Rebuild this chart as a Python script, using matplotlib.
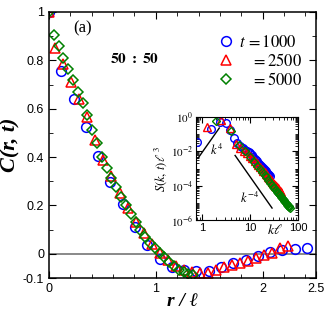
import numpy as np
import matplotlib
matplotlib.use("Agg")
from matplotlib import pyplot as plt
from matplotlib.ticker import FixedLocator, MultipleLocator, NullFormatter, LogLocator

plt.rcParams['mathtext.fontset'] = 'stix'
plt.rcParams['font.family'] = ['Liberation Sans', 'DejaVu Sans']
serif = ['Liberation Serif', 'DejaVu Serif']

# main panel: C(r,t) vs r/l
r_b = [0, 0.115, 0.23, 0.345, 0.46, 0.575, 0.69, 0.805, 0.92, 1.035, 1.15, 1.265,
       1.38, 1.495, 1.61, 1.725, 1.84, 1.955, 2.07, 2.185, 2.3, 2.415]
C_b = [1.0, 0.755, 0.64, 0.524, 0.405, 0.298, 0.205, 0.11, 0.038, -0.02, -0.055, -0.068,
       -0.072, -0.072, -0.056, -0.04, -0.024, -0.008, 0.006, 0.016, 0.021, 0.024]

r_r = [0, 0.06, 0.135, 0.21, 0.285, 0.36, 0.435, 0.51, 0.585, 0.66, 0.735, 0.81, 0.885,
       0.96, 1.035, 1.11, 1.185, 1.26, 1.335, 1.41, 1.485, 1.56, 1.635, 1.71, 1.785,
       1.86, 1.935, 2.01, 2.085, 2.16, 2.235]
C_r = [1.0, 0.85, 0.785, 0.71, 0.64, 0.565, 0.47, 0.39, 0.32, 0.25, 0.19, 0.13, 0.085,
       0.04, 0.005, -0.025, -0.05, -0.065, -0.075, -0.08, -0.078, -0.065, -0.055, -0.047,
       -0.038, -0.03, -0.016, -0.006, 0.005, 0.025, 0.032]

r_g = [0, 0.045, 0.09, 0.135, 0.18, 0.225, 0.27, 0.315, 0.36, 0.405, 0.45, 0.495, 0.54,
       0.585, 0.63, 0.675, 0.72, 0.765, 0.81, 0.855, 0.9, 0.945, 0.99, 1.035, 1.08,
       1.125, 1.17, 1.215, 1.26, 1.305, 1.35]
C_g = [1.0, 0.905, 0.86, 0.81, 0.765, 0.718, 0.67, 0.622, 0.572, 0.51, 0.46, 0.40, 0.355,
       0.315, 0.275, 0.235, 0.2, 0.165, 0.13, 0.1, 0.07, 0.045, 0.025, 0.005, -0.015,
       -0.035, -0.052, -0.065, -0.075, -0.082, -0.086]

# inset: S(k,t) l^3 vs k l  (log10 of S)
k_b = [0.78, 1.56, 2.34, 3.12, 3.9, 4.68, 5.46, 6.24, 7.02, 7.8, 8.58, 9.36, 10.1, 10.9,
       11.7, 12.5, 13.3, 14.0, 14.8, 15.6, 16.4, 17.2, 18.0, 18.7, 19.5, 20.3, 21.1,
       21.8, 22.6, 23.4, 24.2, 25.0, 25.7]
logS_b = [-1.45, -0.69, -0.28, -0.35, -0.78, -1.2, -1.5, -1.68, -1.82, -1.93, -2.0, -2.06,
          -2.12, -2.22, -2.32, -2.42, -2.5, -2.58, -2.66, -2.73, -2.8, -2.87, -2.93, -2.99,
          -3.05, -3.1, -3.16, -3.21, -3.26, -3.31, -3.36, -3.4, -3.44]

k_r = [1.25, 2.5, 3.75, 5.0, 6.25, 7.5, 8.75, 10, 11.25, 12.5, 13.75, 15, 16.25, 17.5,
       18.75, 20, 21.25, 22.5, 23.75, 25, 26.25, 27.5, 28.75, 30, 31.25, 32.5, 33.75, 35,
       36.25, 37.5, 38.75, 40, 41.25, 42.5, 43.75, 45]
logS_r = [-0.59, -0.2, -0.65, -1.55, -1.78, -1.95, -2.1, -2.24, -2.4, -2.56, -2.7, -2.82,
          -2.93, -3.04, -3.14, -3.23, -3.32, -3.4, -3.48, -3.55, -3.62, -3.69, -3.76, -3.82,
          -3.88, -3.93, -3.99, -4.04, -4.09, -4.14, -4.19, -4.23, -4.28, -4.32, -4.36, -4.4]

k_g = [2, 4, 6, 8, 10, 12, 14, 16, 18, 20, 22, 24, 26, 28, 30, 32, 34, 36, 38, 40, 42,
       44, 46, 48, 50, 52, 54, 56, 58, 60, 62, 64, 66, 68]
logS_g = [-0.25, -0.8, -1.6, -2.0, -2.33, -2.6, -2.83, -3.03, -3.2, -3.36, -3.52, -3.68,
          -3.83, -3.95, -4.06, -4.16, -4.25, -4.34, -4.42, -4.5, -4.57, -4.64, -4.7, -4.77,
          -4.83, -4.89, -4.95, -5.0, -5.06, -5.11, -5.16, -5.21, -5.26, -5.3]

# guide lines k^4 and k^-4
k4_x = [0.83, 2.3]
k4_y = [4e-3, 2.3e-1]
km4_x = [4.9, 28.7]
km4_y = [5.8e-3, 5e-6]

fig = plt.figure(figsize=(3.32, 3.13), dpi=100)
ax = fig.add_axes([0.1476, 0.1118, 0.8044, 0.8499])

ax.axhline(0, color='gray', lw=1.3, zorder=1)
mk = dict(ls='none', mfc='none', mew=1.1)
ax.plot(r_b, C_b, 'o', mec='blue', ms=7, label=r'$t\,=1000$', **mk)
ax.plot(r_r, C_r, '^', mec='red', ms=7, label=r'$\ \ \ =2500$', **mk)
ax.plot(r_g, C_g, 'D', mec='green', ms=5.3, label=r'$\ \ \ =5000$', **mk)

ax.set_xlim(0, 2.5)
ax.set_ylim(-0.1, 1.0)
ax.xaxis.set_major_locator(FixedLocator([0, 1, 2, 2.5]))
ax.set_xticklabels(['0', '1', '2', '2.5'])
ax.xaxis.set_minor_locator(MultipleLocator(0.2))
ax.yaxis.set_major_locator(FixedLocator([-0.1, 0, 0.2, 0.4, 0.6, 0.8, 1.0]))
ax.set_yticklabels(['-0.1', '0', '0.2', '0.4', '0.6', '0.8', '1'])
ax.yaxis.set_minor_locator(MultipleLocator(0.1))
ax.tick_params(which='both', direction='in', top=True, right=True, labelsize=9)
ax.tick_params(which='major', length=5)
ax.tick_params(which='minor', length=3)
for s in ax.spines.values():
    s.set_linewidth(1.1)

ax.set_xlabel('r / ℓ', fontsize=14, family=serif, style='italic', weight='bold', labelpad=-1)
ax.set_ylabel('C(r, t)', fontsize=16, family=serif, style='italic', weight='bold', labelpad=2)

ax.text(0.09, 0.925, '(a)', transform=ax.transAxes, fontsize=12, family=serif)
ax.text(0.23, 0.81, r'$\mathbf{50\ :\ 50}$', transform=ax.transAxes, fontsize=11)

leg = ax.legend(loc='upper right', bbox_to_anchor=(0.985, 0.955), frameon=False,
                fontsize=12, handlelength=0.8, handletextpad=0.4, labelspacing=0.12,
                borderaxespad=0.2)

# inset
ins = fig.add_axes([0.590, 0.297, 0.308, 0.329])
imk = dict(ls='none', mfc='none', mew=1.0)
ins.plot(k_b, 10 ** np.array(logS_b), 'o', mec='blue', ms=5.5, **imk)
ins.plot(k_r, 10 ** np.array(logS_r), '^', mec='red', ms=5.5, **imk)
ins.plot(k_g, 10 ** np.array(logS_g), 'D', mec='green', ms=4, **imk)
ins.plot(k4_x, k4_y, color='black', lw=1.0)
ins.plot(km4_x, km4_y, color='black', lw=1.0)
ins.set_xscale('log')
ins.set_yscale('log')
ins.set_xlim(0.75, 100)
ins.set_ylim(1e-6, 1)
ins.yaxis.set_major_locator(FixedLocator([1e-6, 1e-4, 1e-2, 1]))
ins.set_yticklabels([r'$10^{-6}$', r'$10^{-4}$', r'$10^{-2}$', r'$10^{0}$'])
ins.yaxis.set_minor_locator(LogLocator(base=10, subs=np.arange(1, 10), numticks=20))
ins.yaxis.set_minor_formatter(NullFormatter())
ins.xaxis.set_major_locator(FixedLocator([1, 10, 100]))
ins.set_xticklabels(['1', '10', '100'])
ins.xaxis.set_minor_locator(LogLocator(base=10, subs=np.arange(2, 10), numticks=20))
ins.xaxis.set_minor_formatter(NullFormatter())
ins.tick_params(which='both', direction='in', top=True, right=True, labelsize=8, pad=2)
ins.tick_params(which='major', length=4)
ins.tick_params(which='minor', length=2)
ins.set_ylabel(r'$S(k,\,t)\ell^{\ 3}$', fontsize=9, labelpad=1)
ins.text(0.70, -0.135, r'$k\ell$', transform=ins.transAxes, fontsize=10)
ins.text(0.14, 0.63, r'$k^4$', transform=ins.transAxes, fontsize=9)
ins.text(0.43, 0.17, r'$k^{-4}$', transform=ins.transAxes, fontsize=9)

fig.savefig('out.png', dpi=100)
